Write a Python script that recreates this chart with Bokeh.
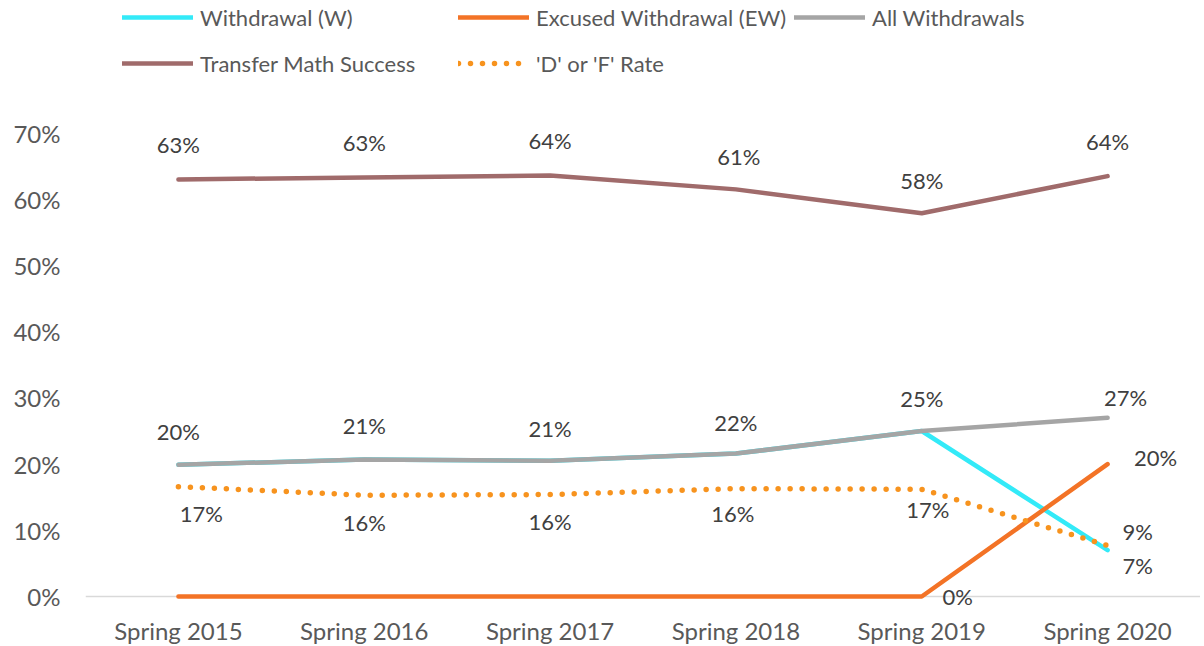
from bokeh.plotting import figure
from bokeh.models import Range1d, FactorRange, Legend, LegendItem, Span, FixedTicker, NumeralTickFormatter, ColumnDataSource
from bokeh.core.properties import value
from bokeh.embed import file_html
from bokeh.resources import INLINE

# ---- data ----
terms = ["Spring 2015", "Spring 2016", "Spring 2017", "Spring 2018", "Spring 2019", "Spring 2020"]
withdrawal_w = [0.199, 0.207, 0.205, 0.216, 0.250, 0.070]
excused_ew = [0.0, 0.0, 0.0, 0.0, 0.0, 0.200]
all_withdrawals = [0.199, 0.207, 0.205, 0.216, 0.250, 0.270]
transfer_success = [0.630, 0.633, 0.636, 0.615, 0.579, 0.635]
df_rate = [0.166, 0.153, 0.154, 0.163, 0.162, 0.077]

transfer_labels = ["63%", "63%", "64%", "61%", "58%", "64%"]
all_labels = ["20%", "21%", "21%", "22%", "25%", "27%"]
df_labels = ["17%", "16%", "16%", "16%", "17%", "9%"]
ew_label_terms = ["Spring 2019", "Spring 2020"]
ew_label_vals = [0.0, 0.200]
ew_labels = ["0%", "20%"]
w_label_terms = ["Spring 2020"]
w_label_vals = [0.070]
w_labels = ["7%"]

y_ticks = [0, 0.1, 0.2, 0.3, 0.4, 0.5, 0.6, 0.7]

FONT = "Lato"
C_W = "#33EAF8"
C_EW = "#F37326"
C_ALL = "#A5A5A5"
C_TR = "#A06B6B"
C_DF = "#F7931E"
LBL = "#404040"

p = figure(x_range=FactorRange(*terms, range_padding=0), y_range=Range1d(-0.0196, 0.9003),
           width=1200, height=644, frame_width=1115, frame_height=609,
           min_border_left=85, min_border_right=0, min_border_top=0, min_border_bottom=35,
           output_backend="svg", toolbar_location=None)
p.outline_line_color = None
p.grid.visible = False
p.background_fill_color = "white"

p.yaxis.ticker = FixedTicker(ticks=y_ticks)
p.yaxis.formatter = NumeralTickFormatter(format="0%")
for ax in (p.xaxis[0], p.yaxis[0]):
    ax.axis_line_color = None
    ax.major_tick_line_color = None
    ax.minor_tick_line_color = None
    ax.major_tick_out = 0
    ax.major_tick_in = 0
    ax.minor_tick_out = 0
    ax.major_label_text_font = FONT
    ax.major_label_text_font_size = "24px"
    ax.major_label_text_color = "#595959"
p.yaxis.major_label_standoff = 25
p.xaxis.major_label_standoff = 6

p.add_layout(Span(location=0, dimension="width", line_color="#D9D9D9", line_width=1.5, level="underlay"))

r_w = p.line(terms, withdrawal_w, line_color=C_W, line_width=4.5, line_cap="round", line_join="round")
r_ew = p.line(terms, excused_ew, line_color=C_EW, line_width=4.5, line_cap="round", line_join="round")
r_all = p.line(terms, all_withdrawals, line_color=C_ALL, line_width=4.5, line_cap="round", line_join="round")
r_tr = p.line(terms, transfer_success, line_color=C_TR, line_width=4.5, line_cap="round", line_join="round")
r_df = p.line(terms, df_rate, line_color=C_DF, line_width=5.5, line_dash="0 12", line_cap="round", line_join="round")

def labels(xs, ys, texts, xo, yo, align="center"):
    src = ColumnDataSource(dict(x=xs, y=ys, t=texts, xo=xo, yo=yo))
    p.text(x="x", y="y", text="t", x_offset="xo", y_offset="yo", source=src,
           text_font=value(FONT), text_font_size="22px", text_color=LBL,
           text_align=align, text_baseline="middle")

labels(terms, transfer_success, transfer_labels, [0, 0, 0, 3, 0, 0], [-35, -35, -35, -33, -33, -35])
labels(terms, all_withdrawals, all_labels, [0, 0, 0, 0, 0, 18], [-33, -34, -32, -31, -33, -20])
labels(terms, df_rate, df_labels, [23, 0, 0, -3, 6, 30], [27, 27, 27, 25, 20, -14])
labels(ew_label_terms, ew_label_vals, ew_labels, [36, 48], [0, -7])
labels(w_label_terms, w_label_vals, w_labels, [30], [15])

legend = Legend(items=[LegendItem(label="Withdrawal (W)", renderers=[r_w]),
                       LegendItem(label="Excused Withdrawal (EW)", renderers=[r_ew]),
                       LegendItem(label="All Withdrawals", renderers=[r_all]),
                       LegendItem(label="Transfer Math Success", renderers=[r_tr]),
                       LegendItem(label="'D' or 'F' Rate", renderers=[r_df])],
                location=(37, 527), orientation="horizontal", ncols=3,
                glyph_width=71, glyph_height=38, label_standoff=7, label_width=250,
                label_height=38, spacing=8, padding=0, margin=0, border_line_color=None,
                background_fill_alpha=0, label_text_font=FONT, label_text_font_size="22px",
                label_text_color="#595959")
p.add_layout(legend, "center")

open("out.html", "w").write(file_html(p, INLINE))
